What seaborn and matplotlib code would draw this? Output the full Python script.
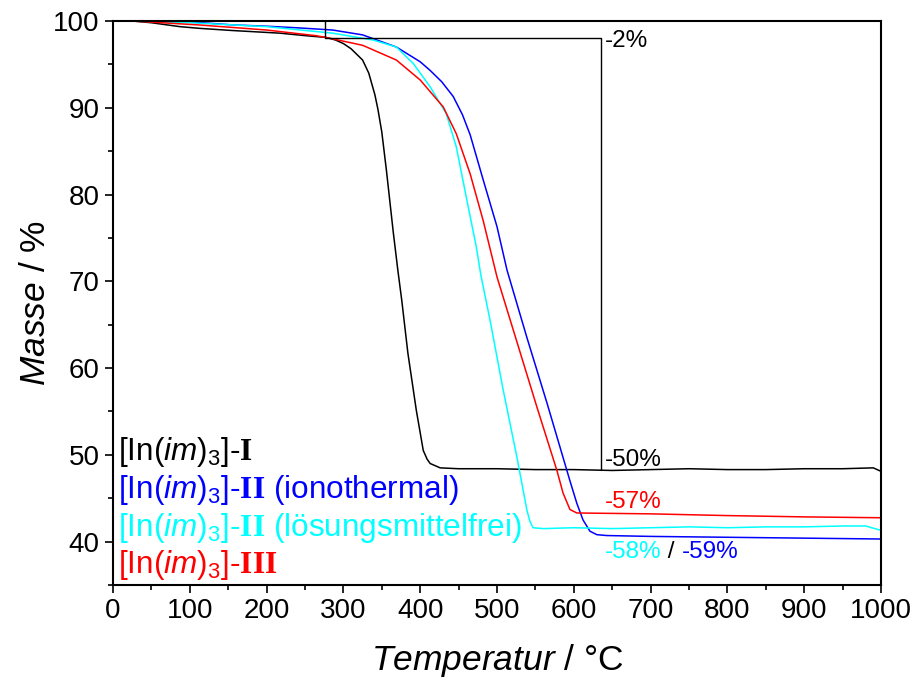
import matplotlib

matplotlib.use("Agg")
import matplotlib.pyplot as plt
import pandas as pd
import seaborn as sns
from matplotlib.ticker import MultipleLocator

# TGA curves (temperature in degC, mass in %)
temp_I = [25, 50, 87, 113, 156, 217, 252, 278, 290, 300, 310, 325, 333, 341, 345, 350, 356, 365, 371, 376,
          384, 395, 404, 409, 413, 426, 450, 500, 550, 600, 650, 700, 750, 800, 850, 900, 950, 990, 1000]
mass_I = [100, 99.8, 99.35, 99.15, 98.9, 98.6, 98.3, 98.1, 97.8, 97.4, 96.8, 95.5, 94.0, 91.5, 89.8, 87.2, 82.8,
          75.6, 71.2, 67.8, 61.7, 55.1, 50.5, 49.5, 49.0, 48.5, 48.4, 48.4, 48.3, 48.3, 48.2, 48.3, 48.4, 48.3,
          48.3, 48.4, 48.4, 48.5, 48.1]

temp_II_iono = [25, 100, 156, 200, 243, 286, 325, 369, 400, 413, 428, 443, 455, 465, 482, 500, 513, 539, 565,
                575, 586, 595, 604, 612, 621, 630, 643, 700, 800, 900, 1000]
mass_II_iono = [100, 99.9, 99.55, 99.4, 99.2, 98.96, 98.4, 97.0, 95.3, 94.3, 93.0, 91.3, 89.2, 86.9, 81.7,
                76.3, 71.3, 63.5, 56.0, 53.0, 49.7, 47.0, 44.4, 42.5, 41.2, 40.8, 40.7, 40.6, 40.5, 40.4, 40.3]

temp_II_lf = [25, 100, 200, 286, 339, 369, 391, 413, 434, 447, 460, 473, 479, 491, 508, 526,
              539, 543, 547, 560, 600, 650, 700, 750, 800, 850, 900, 950, 980, 1000]
mass_II_lf = [100, 99.8, 99.35, 98.6, 97.8, 97.0, 95.1, 92.4, 89.3, 85.5, 79.7, 74.0, 70.7, 65.5, 57.5, 49.7,
              43.6, 42.3, 41.6, 41.5, 41.6, 41.5, 41.6, 41.7, 41.6, 41.7, 41.7, 41.8, 41.8, 41.3]

temp_III = [25, 113, 200, 265, 283, 325, 369, 400, 430, 447, 465, 482, 500, 526, 552, 578,
            586, 595, 604, 700, 800, 900, 1000]
mass_III = [100, 99.54, 98.96, 98.3, 98.0, 97.2, 95.5, 93.2, 90.1, 87.0, 82.4, 77.0, 70.5, 63.0, 55.5, 48.2,
            45.6, 43.7, 43.3, 43.2, 43.0, 42.85, 42.75]

# step guide lines (-2 % / -50 %)
guide_x = [276, 276, 635, 635]
guide_y = [100, 98, 98, 48.3]

series = ["I", "II_iono", "II_lf", "III"]
colors = {"I": "#000000", "II_iono": "#0000FF", "II_lf": "#00FFFF", "III": "#FF0000"}
labels = [
    r"[In($\mathit{im}$)$_3$]-$\mathbf{I}$",
    r"[In($\mathit{im}$)$_3$]-$\mathbf{II}$ (ionothermal)",
    r"[In($\mathit{im}$)$_3$]-$\mathbf{II}$ (lösungsmittelfrei)",
    r"[In($\mathit{im}$)$_3$]-$\mathbf{III}$",
]
label_y = [49.35, 45.05, 40.7, 36.35]

parts = []
for name, t, m in [("I", temp_I, mass_I), ("II_iono", temp_II_iono, mass_II_iono),
                   ("II_lf", temp_II_lf, mass_II_lf), ("III", temp_III, mass_III)]:
    parts.append(pd.DataFrame({"temp": t, "mass": m, "sample": name}))
df = pd.concat(parts, ignore_index=True)

sns.set_style("ticks")
plt.rcParams.update({
    "font.family": ["Liberation Sans", "DejaVu Sans"],
    "mathtext.fontset": "custom",
    "mathtext.rm": "Liberation Sans",
    "mathtext.it": "Liberation Sans:italic",
    "mathtext.bf": "Liberation Serif:bold",
    "text.color": "black",
    "axes.labelcolor": "black",
    "xtick.color": "black",
    "ytick.color": "black",
    "axes.edgecolor": "black",
})

fig = plt.figure(figsize=(9.18, 6.86), dpi=100)
ax = fig.add_axes([113 / 918, 1 - 585 / 686, 768 / 918, 564 / 686])

sns.lineplot(data=df, x="temp", y="mass", hue="sample", palette=colors, hue_order=series,
             estimator=None, sort=False, legend=False, linewidth=1.1, ax=ax)
ax.plot(guide_x, guide_y, color="black", linewidth=1.0)

ax.set_xlim(0, 1000)
ax.set_ylim(35, 100)
ax.xaxis.set_major_locator(MultipleLocator(100))
ax.xaxis.set_minor_locator(MultipleLocator(50))
ax.yaxis.set_minor_locator(MultipleLocator(5))
ax.set_yticks([40, 50, 60, 70, 80, 90, 100])
ax.tick_params(which="major", direction="out", length=6, width=1.2, labelsize=20)
ax.tick_params(which="minor", direction="out", length=3.5, width=1.2)
for sp in ax.spines.values():
    sp.set_linewidth(1.5)

ax.set_xlabel(r"$\mathit{Temperatur}$ / °C", fontsize=25.5, labelpad=13)
ax.set_ylabel(r"$\mathit{Masse}$ / %", fontsize=25.5, labelpad=1)

for lab, y, name in zip(labels, label_y, series):
    ax.text(6.5, y, lab, color=colors[name], fontsize=22.7, va="baseline", ha="left")

ax.text(640, 97.0, "-2%", fontsize=17.5, va="baseline")
ax.text(640, 48.77, "-50%", fontsize=17.5, va="baseline")
ax.text(640, 43.9, "-57%", fontsize=17.5, va="baseline", color=colors["III"])
t1 = ax.text(640, 38.1, "-58%", fontsize=17.5, va="baseline", color=colors["II_lf"])
t2 = ax.annotate(" / ", xy=(1, 0), xycoords=t1, va="bottom", fontsize=17.5, color="black")
ax.annotate("-59%", xy=(1, 0), xycoords=t2, va="bottom", fontsize=17.5, color=colors["II_iono"])

fig.savefig("out.png", dpi=100)
